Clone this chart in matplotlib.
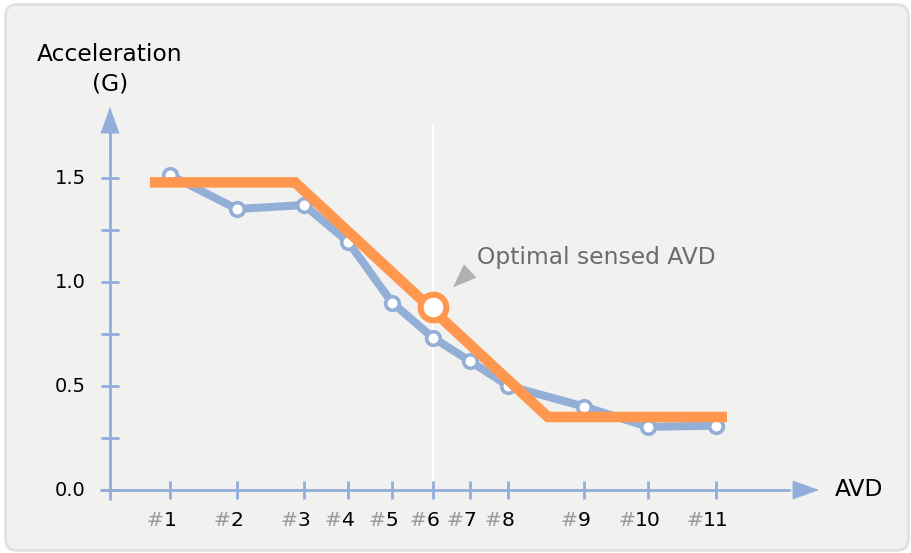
import numpy as np
import matplotlib
matplotlib.use("Agg")
import matplotlib.pyplot as plt
import matplotlib.transforms as mtransforms
from matplotlib.patches import FancyBboxPatch
from matplotlib.path import Path
from matplotlib.offsetbox import TextArea, HPacker, AnnotationBbox

# AVD settings (position on the x axis) and measured acceleration
avd_labels = ["1", "2", "3", "4", "5", "6", "7", "8", "9", "10", "11"]
avd_pos = np.array([6.0, 12.7, 19.4, 23.8, 28.2, 32.3, 36.0, 39.8, 47.4, 53.8, 60.6])
accel = np.array([1.514, 1.351, 1.370, 1.194, 0.901, 0.732, 0.620, 0.501, 0.401, 0.304, 0.309])

# piecewise fit (plateau - slope - plateau)
fit_x = [4.0, 18.5, 43.8, 61.7]
fit_y = [1.479, 1.479, 0.351, 0.351]

opt_idx = 5          # optimal sensed AVD is #6
opt_y = 0.878

y_ticks = [0.0, 0.5, 1.0, 1.5]
y_minor = [0.25, 0.75, 1.25]

BLUE = "#93afd8"
AXIS = "#92add9"
ORANGE = "#ff984e"
GRAY_TXT = "#6b6b6b"
HASH = "#9a9a9a"
XTICK_FS = 14.6
YTICK_FS = 14
TITLE_FS = 16.8

fig = plt.figure(figsize=(9.12, 5.53), dpi=100, facecolor="white")

# rounded panel behind everything
panel = FancyBboxPatch((5.5, 2.5), 903, 546, boxstyle="round,pad=0,rounding_size=12",
                       transform=mtransforms.IdentityTransform(),
                       facecolor="#f1f2f0", edgecolor="#dfe2e5", lw=2.0, zorder=-5)
fig.patches.append(panel)

ax = fig.add_axes([0, 0, 1, 1])
ax.set_facecolor("none")
ax.set_xlim(-11, 80.2)
ax.set_ylim(-63 / 208, 490 / 208)
ax.axis("off")


def off(dx, dy):
    # shift in pixels (dpi 100)
    return ax.transData + mtransforms.ScaledTranslation(dx / 100, dy / 100, fig.dpi_scale_trans)


# axes with arrows
ax.plot([-1.0, 68], [0, 0], color=AXIS, lw=2, zorder=2, solid_capstyle="butt")
ax.plot([0, 0], [-0.048, 1.75], color=AXIS, lw=2, zorder=2, solid_capstyle="butt")
arrow = dict(arrowstyle="-|>,head_length=18,head_width=6.5", mutation_scale=1,
             color=AXIS, lw=0.5, shrinkA=0, shrinkB=0)
ax.annotate("", xy=(70.9, 0), xytext=(65, 0), arrowprops=arrow, zorder=2)
ax.annotate("", xy=(0, 1.841), xytext=(0, 1.6), arrowprops=arrow, zorder=2)

# y ticks
for v in y_ticks + y_minor:
    ax.plot([-0.9, 0.9], [v, v], color=AXIS, lw=2, zorder=2, solid_capstyle="butt")
for v in y_ticks:
    ax.text(0, v, f"{v:.1f}", transform=off(-24, 0), ha="right", va="center",
            fontsize=YTICK_FS, color="black")

# x ticks and labels: number centred on the tick, grey "#" in front
for x, lab in zip(avd_pos, avd_labels):
    ax.plot([x, x], [-9 / 208, 9 / 208], color=AXIS, lw=2, zorder=2, solid_capstyle="butt")
    box = HPacker(children=[TextArea("#", textprops=dict(color=HASH, fontsize=XTICK_FS)),
                            TextArea(lab, textprops=dict(color="black", fontsize=XTICK_FS))],
                  pad=0, sep=0)
    ab = AnnotationBbox(box, (x, 0), xybox=(-6.1, -22.3), boxcoords="offset points",
                        box_alignment=(0.5, 0.5), frameon=False, pad=0)
    ax.add_artist(ab)

# axis titles
ax.text(0, 2.096, "Acceleration", ha="center", va="center", fontsize=TITLE_FS)
ax.text(0, 1.952, "(G)", ha="center", va="center", fontsize=TITLE_FS)
ax.text(72.5, 0, "AVD", ha="left", va="center", fontsize=TITLE_FS)

# vertical marker line at the optimal AVD
ax.plot([avd_pos[opt_idx]] * 2, [0, 1.755], color="white", lw=1.6, zorder=1)

# measured curve
ax.plot(avd_pos, accel, color=BLUE, lw=5.8, zorder=3, marker="o", ms=9.8,
        mfc="white", mec=BLUE, mew=2.6)

# fitted curve
ax.plot(fit_x, fit_y, color=ORANGE, lw=7.6, zorder=4, solid_capstyle="butt",
        solid_joinstyle="miter")

# optimal point
ax.plot(avd_pos[opt_idx], opt_y, marker="o", ms=18.5, mfc="white", mec=ORANGE,
        mew=4.4, zorder=5)

# annotation triangle + text
tri = Path([(-11.6, -11.1), (-0.6, 12.3), (12.1, -1.1), (-11.6, -11.1)],
           [Path.MOVETO, Path.LINETO, Path.LINETO, Path.CLOSEPOLY])
ax.plot(avd_pos[opt_idx], opt_y, marker=tri, ms=17.5, color="#b0b2af", mew=0,
        transform=off(31.3, 31.7), zorder=5)
ax.text(avd_pos[opt_idx], opt_y, "Optimal sensed AVD", transform=off(44, 50),
        ha="left", va="center", fontsize=TITLE_FS, color=GRAY_TXT)

fig.savefig("out.png", dpi=100)
